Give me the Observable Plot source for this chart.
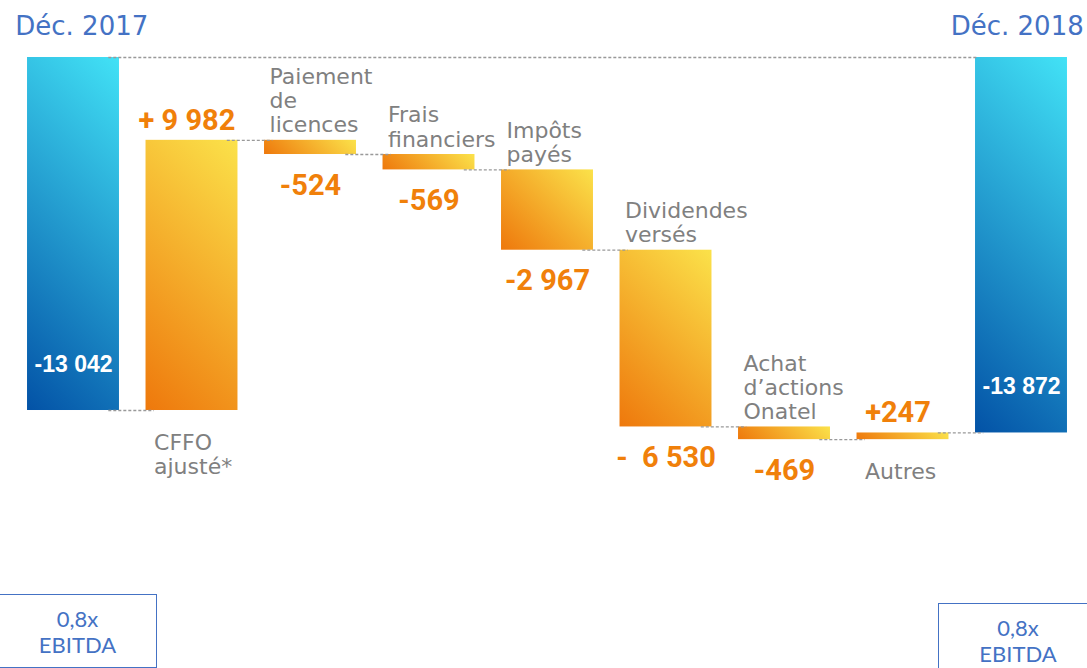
<!DOCTYPE html>
<html><head><meta charset="utf-8">
<script src="https://cdn.jsdelivr.net/npm/d3@7"></script>
<script src="https://cdn.jsdelivr.net/npm/@observablehq/plot@0.6"></script>
<style>
body{margin:0;background:#fff;}
#wrap{position:relative;width:1087px;height:668px;overflow:hidden;background:#fff;}
#wrap svg text{white-space:pre;}
.box{position:absolute;border:1.5px solid #4472c4;color:#4472c4;font-family:Lato,sans-serif;font-size:22px;text-align:center;line-height:26px;box-sizing:border-box;padding-top:11px;white-space:pre;}
</style></head><body><div id="wrap"></div>
<script>
// ---- data ----
const categories = ["Déc. 2017", "CFFO\najusté*", "Paiement\nde\nlicences", "Frais\nfinanciers", "Impôts\npayés", "Dividendes\nversés", "Achat\nd’actions\nOnatel", "Autres", "Déc. 2018"];
const values = [-13042, 9982, -524, -569, -2967, -6530, -469, 247, -13872];
const valueLabels = ["-13 042", "+ 9 982", "-524", "-569", "-2 967", "-  6 530", "-469", "+247", "-13 872"];
const ratioLabels = ["0,8x\nEBITDA", "0,8x\nEBITDA"];

// ---- build waterfall rows ----
const last = values.length - 1;
let cum = 0;
const rows = values.map((v, i) => {
  if (i === 0 || i === last) { cum = v; return {i, cat: categories[i], kind: "total", y1: 0, y2: v, value: v, label: valueLabels[i]}; }
  const prev = cum; cum += v;
  return {i, cat: categories[i], kind: "delta", y1: prev, y2: cum, value: v, label: valueLabels[i]};
});
const totals = rows.filter(d => d.kind === "total");
const deltas = rows.filter(d => d.kind === "delta");
const hw = 0.388;
const links = rows.slice(0, last).map((d, k) => ({xa: d.i + hw - 0.09, xb: rows[k + 1].i - hw + 0.07, y: d.y2}));
links.push({xa: rows[0].i + hw - 0.09, xb: rows[last].i - hw + 0.02, y: 0});

const catFont = "DejaVu Sans";
const valFont = "Roboto";

const chart = Plot.plot({
  width: 1087, height: 668,
  marginLeft: 13.75, marginRight: 6.75, marginTop: 57, marginBottom: 205,
  x: {domain: [-0.5, 8.5], axis: null},
  y: {domain: [-15000, 0], axis: null},
  marks: [
    Plot.rect(rows, {x1: d => d.i - hw, x2: d => d.i + hw, y1: "y1", y2: "y2", fill: d => d.kind === "total" ? "#1a8fd0" : "#f5a623"}),
    Plot.ruleY(links, {y: "y", x1: "xa", x2: "xb", stroke: "#999999", strokeWidth: 1.3, strokeDasharray: "3,2"}),
    // totals inside bars
    Plot.text(totals, {x: "i", y: "y2", text: "label", dy: -46, fill: "white", fontWeight: "bold", fontFamily: "Liberation Sans", fontSize: 23}),
    // titles
    Plot.text([categories[0]], {frameAnchor: "top-left", text: d => d, textAnchor: "start", lineAnchor: "middle", dx: 1, dy: -31, fill: "#4472c4", fontFamily: catFont, fontSize: 26}),
    Plot.text([categories[last]], {frameAnchor: "top-right", text: d => d, textAnchor: "end", lineAnchor: "middle", dx: 3, dy: -31, fill: "#4472c4", fontFamily: catFont, fontSize: 26}),
    // category labels: above negatives, below positives
    Plot.text(deltas.filter(d => d.value < 0), {x: d => d.i - hw, y: "y1", text: "cat", textAnchor: "start", lineAnchor: "bottom", dx: 5, dy: -8, lineHeight: 1.1, fill: "#808080", fontFamily: catFont, fontSize: 22}),
    Plot.text(deltas.filter(d => d.value >= 0), {x: d => d.i - hw, y: "y1", text: "cat", textAnchor: "start", lineAnchor: "top", dx: 8, dy: 22, lineHeight: 1.1, fill: "#808080", fontFamily: catFont, fontSize: 22}),
    // value labels: below negatives, above positives
    Plot.text(deltas.filter(d => d.value < 0), {x: "i", y: "y2", text: "label", lineAnchor: "middle", dy: 31, fill: "#f0800a", fontWeight: "bold", fontFamily: valFont, fontSize: 29}),
    Plot.text(deltas.filter(d => d.value >= 0), {x: "i", y: "y2", text: "label", lineAnchor: "middle", dy: -20, dx: -5, fill: "#f0800a", fontWeight: "bold", fontFamily: valFont, fontSize: 29})
  ]
});

// ---- gradient fills (45° from bottom-left to top-right of each bar) ----
const ns = "http://www.w3.org/2000/svg";
const defs = document.createElementNS(ns, "defs");
chart.insertBefore(defs, chart.firstChild);
const rects = chart.querySelectorAll('g[aria-label="rect"] rect');
rects.forEach((r, k) => {
  const d = rows[k];
  const x = +r.getAttribute("x"), y = +r.getAttribute("y"), w = +r.getAttribute("width"), h = +r.getAttribute("height");
  const s = (w + h) / 2;
  const g = document.createElementNS(ns, "linearGradient");
  g.setAttribute("id", "grad" + k);
  g.setAttribute("gradientUnits", "userSpaceOnUse");
  g.setAttribute("x1", x); g.setAttribute("y1", y + h);
  g.setAttribute("x2", x + s); g.setAttribute("y2", y + h - s);
  const stops = d.kind === "total" ? [["0", "#0352a6"], ["1", "#42e2f6"]] : [["0", "#ee780c"], ["1", "#fbe24a"]];
  for (const [o, c] of stops) { const st = document.createElementNS(ns, "stop"); st.setAttribute("offset", o); st.setAttribute("stop-color", c); g.appendChild(st); }
  defs.appendChild(g);
  r.setAttribute("fill", "url(#grad" + k + ")");
});

const wrap = document.getElementById("wrap");
wrap.appendChild(chart);
const boxPos = [{left: -2, top: 594, width: 159, height: 74}, {left: 938, top: 603, width: 160, height: 80}];
ratioLabels.forEach((t, k) => {
  const b = document.createElement("div");
  b.className = "box";
  Object.assign(b.style, {left: boxPos[k].left + "px", top: boxPos[k].top + "px", width: boxPos[k].width + "px", height: boxPos[k].height + "px"});
  b.textContent = t;
  wrap.appendChild(b);
});
</script></body></html>
